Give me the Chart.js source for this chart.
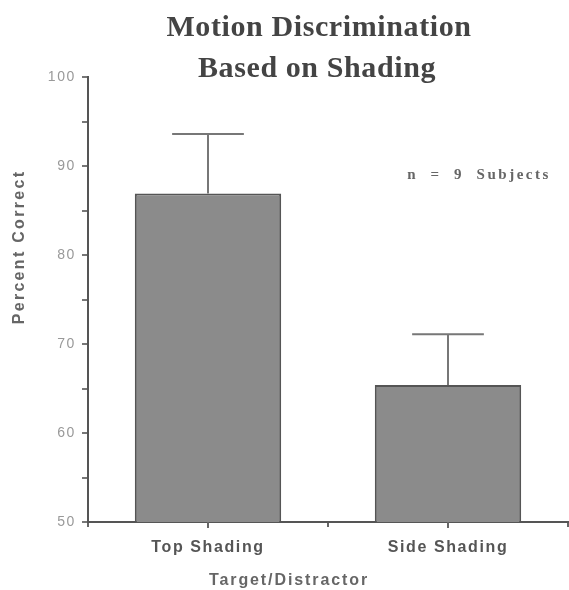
<!DOCTYPE html>
<html>
<head>
<meta charset="utf-8">
<script src="https://cdn.jsdelivr.net/npm/chart.js@4/dist/chart.umd.min.js"></script>
<style>
  html, body { margin: 0; padding: 0; background: #fff; }
  #wrap { width: 569px; height: 590px; }
</style>
</head>
<body>
<div id="wrap"><canvas id="chart"></canvas></div>
<script>
const categories = ['Top Shading', 'Side Shading'];
const percentCorrect = [86.9, 65.4];
const errorUpper = [93.6, 71.1];
const yTickLabels = [50, 60, 70, 80, 90, 100];

const sans = '"Liberation Sans", Arial, sans-serif';
const serif = '"Liberation Serif", "Times New Roman", serif';

// wide lettering on the tick labels
const spacingPlugin = {
  id: 'spacing',
  beforeDraw(chart) { chart.ctx.letterSpacing = '1.6px'; },
  beforeLayout(chart) { chart.ctx.letterSpacing = '1.6px'; }
};

const extrasPlugin = {
  id: 'extras',
  afterDraw(chart) {
    const ctx = chart.ctx;
    const x = chart.scales.x, y = chart.scales.y;
    ctx.save();

    // tick marks under each category
    ctx.strokeStyle = '#666';
    ctx.lineWidth = 2;
    categories.forEach((c, i) => {
      const px = x.getPixelForValue(i);
      ctx.beginPath();
      ctx.moveTo(px, y.bottom);
      ctx.lineTo(px, y.bottom + 6);
      ctx.stroke();
    });

    // error bars (upper only)
    ctx.strokeStyle = '#777';
    ctx.lineWidth = 2;
    chart.getDatasetMeta(0).data.forEach((bar, i) => {
      const top = y.getPixelForValue(errorUpper[i]);
      const half = bar.width * 0.245;
      ctx.beginPath();
      ctx.moveTo(bar.x, bar.y);
      ctx.lineTo(bar.x, top);
      ctx.moveTo(bar.x - half, top);
      ctx.lineTo(bar.x + half, top);
      ctx.stroke();
    });

    // title
    ctx.fillStyle = '#444';
    ctx.textAlign = 'center';
    ctx.textBaseline = 'alphabetic';
    ctx.letterSpacing = '0.6px';
    ctx.font = 'bold 30px ' + serif;
    ctx.fillText('Motion Discrimination', 319, 36);
    ctx.fillText('Based on Shading', 317, 77);

    // annotation
    ctx.fillStyle = '#666';
    ctx.letterSpacing = '2.5px';
    ctx.font = 'bold 15px ' + serif;
    ctx.fillText('n  =  9  Subjects', 479, 179);

    // axis titles
    ctx.fillStyle = '#666';
    ctx.font = 'bold 16px ' + sans;
    ctx.letterSpacing = '1.9px';
    ctx.fillText('Target/Distractor', 289, 585);

    ctx.letterSpacing = '2.3px';
    ctx.translate(24, 247);
    ctx.rotate(-Math.PI / 2);
    ctx.fillText('Percent Correct', 0, 0);

    ctx.restore();
  }
};

new Chart(document.getElementById('chart'), {
  type: 'bar',
  data: {
    labels: categories,
    datasets: [{
      data: percentCorrect,
      backgroundColor: '#8b8b8b',
      borderColor: '#555',
      borderWidth: 2,
      barPercentage: 0.61,
      categoryPercentage: 1
    }]
  },
  options: {
    responsive: true,
    maintainAspectRatio: false,
    animation: false,
    layout: { padding: { top: 77, right: 1, left: 0, bottom: 0 } },
    plugins: { legend: { display: false }, title: { display: false }, tooltip: { enabled: false } },
    scales: {
      x: {
        offset: true,
        grid: { offset: true, drawOnChartArea: false, drawTicks: true, tickLength: 5, color: '#666', lineWidth: 2 },
        border: { color: '#555', width: 2 },
        ticks: { color: '#555', font: { family: sans, size: 16, weight: 'bold' }, padding: 11, autoSkip: false, maxRotation: 0 },
        afterFit(scale) { scale.height = 68; }
      },
      y: {
        min: 50,
        max: 100,
        grid: { drawOnChartArea: false, drawTicks: true, tickLength: 6, color: '#777', lineWidth: 2 },
        border: { color: '#555', width: 2 },
        ticks: {
          stepSize: 5,
          color: '#999',
          font: { family: sans, size: 14 },
          padding: 6,
          callback: v => yTickLabels.includes(v) ? v : ''
        },
        afterFit(scale) { scale.width = 88; }
      }
    }
  },
  plugins: [spacingPlugin, extrasPlugin]
});
</script>
</body>
</html>
